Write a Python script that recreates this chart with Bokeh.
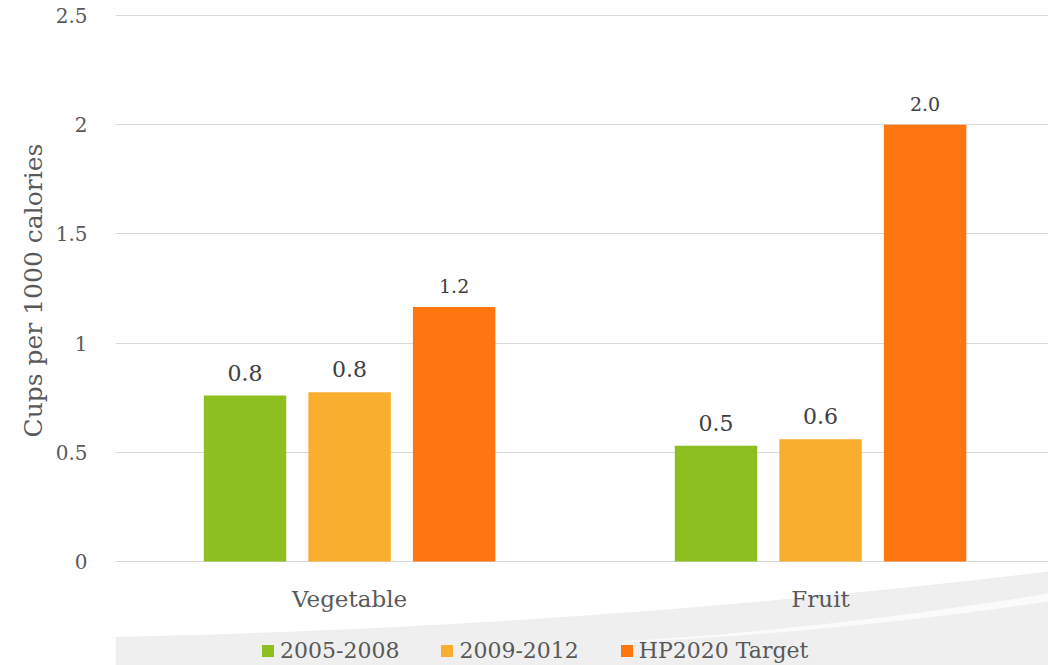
import numpy as np
from bokeh.plotting import figure
from bokeh.models import (ColumnDataSource, Range1d, FixedTicker, NumeralTickFormatter,
                          Title)
from bokeh.core.properties import value
from bokeh.embed import file_html
from bokeh.resources import INLINE

# ---- data -------------------------------------------------------------
categories = ["Vegetable", "Fruit"]
series = ["2005-2008", "2009-2012", "HP2020 Target"]
cups_2005_2008 = [0.76, 0.53]
cups_2009_2012 = [0.775, 0.56]
cups_hp2020 = [1.165, 2.0]
y_ticks = [0, 0.5, 1, 1.5, 2, 2.5]

colors = ["#8cbf1f", "#f9ae2f", "#fd760f"]
FONT = "DejaVu Serif"
GREY_TEXT = "#595959"
DARK_TEXT = "#404040"

# ---- figure -----------------------------------------------------------
PX_PER_UNIT = 218.4
p = figure(width=1048, height=665, output_backend="svg", toolbar_location=None,
           x_range=Range1d(-0.497, 1.484),
           y_range=Range1d(-0.476, 2.5 + 3 / PX_PER_UNIT),
           x_axis_location=None, min_border_left=115, min_border_right=0,
           min_border_top=12, min_border_bottom=0)
p.outline_line_color = None
p.background_fill_color = "white"
p.border_fill_color = "white"
p.xgrid.visible = False

yax = p.yaxis[0]
yax.ticker = FixedTicker(ticks=y_ticks)
yax.formatter = NumeralTickFormatter(format="0.[0]")
yax.axis_line_color = None
yax.major_tick_line_color = None
yax.minor_tick_line_color = None
yax.major_label_standoff = 22
yax.major_label_text_font = FONT
yax.major_label_text_font_size = "20px"
yax.major_label_text_color = GREY_TEXT

p.ygrid.ticker = FixedTicker(ticks=y_ticks)
p.ygrid.grid_line_color = "#d9d9d9"
p.ygrid.grid_line_width = 1

# ---- soft grey sweep along the bottom ---------------------------------
def to_x(px):
    return (np.asarray(px, dtype=float) - 349.0) / 471.0

def to_y(py):
    return (561.0 - np.asarray(py, dtype=float)) / PX_PER_UNIT

sx = np.linspace(115, 1048, 60)
top_edge = np.polyval(np.polyfit([0, 524, 1048], [638, 619, 571], 2), sx)
p.patch(np.concatenate([to_x(sx), to_x([1048, 115])]),
        np.concatenate([to_y(top_edge), to_y([665, 665])]),
        fill_color="#efefef", line_color=None)

hx = np.linspace(630, 1048, 40)
h_mid = np.polyval(np.polyfit([630, 840, 1048], [641, 624, 597], 2), hx)
h_half = np.linspace(0.5, 4.0, len(hx))
p.patch(np.concatenate([to_x(hx), to_x(hx[::-1])]),
        np.concatenate([to_y(h_mid - h_half), to_y((h_mid + h_half)[::-1])]),
        fill_color="#fbfbfb", line_color=None)

# ---- bars -------------------------------------------------------------
offsets = [-0.222, 0.0, 0.222]
bar_width = 0.175
values = [cups_2005_2008, cups_2009_2012, cups_hp2020]
label_sizes = ["22px", "22px", "19px"]
label_lift = [-23, -23, -21]
base_x = np.arange(len(categories), dtype=float)

for name, vals, off, col, lsize, lift in zip(series, values, offsets, colors,
                                             label_sizes, label_lift):
    src = ColumnDataSource(dict(x=base_x + off, top=vals,
                                label=[f"{v:.1f}" for v in vals]))
    p.vbar(x="x", top="top", width=bar_width, source=src, fill_color=col,
           line_color=None, legend_label=name)
    p.text(x="x", y="top", text="label", source=src, text_align="center",
           text_baseline="alphabetic", y_offset=lift, text_font=value(FONT),
           text_font_size=lsize, text_color=DARK_TEXT)

# category labels under the groups
cat_src = ColumnDataSource(dict(x=base_x, y=[0, 0], text=categories))
p.text(x="x", y="y", text="text", source=cat_src, text_align="center",
       text_baseline="middle", y_offset=37, text_font=value(FONT),
       text_font_size="23px", text_color=GREY_TEXT)

# ---- legend -----------------------------------------------------------
leg = p.legend[0]
leg.orientation = "horizontal"
leg.location = (145, 2)
leg.background_fill_alpha = 0
leg.border_line_alpha = 0
leg.padding = 0
leg.margin = 0
leg.spacing = 40
leg.glyph_width = 15
leg.glyph_height = 15
leg.label_standoff = 5
leg.label_text_font = FONT
leg.label_text_font_size = "22px"
leg.label_text_color = GREY_TEXT

# ---- vertical axis title ----------------------------------------------
p.add_layout(Title(text="Cups per 1000 calories", align="left", offset=228,
                   text_font=FONT, text_font_size="25px", text_font_style="normal",
                   text_color=GREY_TEXT), "left")

open("out.html", "w").write(file_html(p, INLINE))
